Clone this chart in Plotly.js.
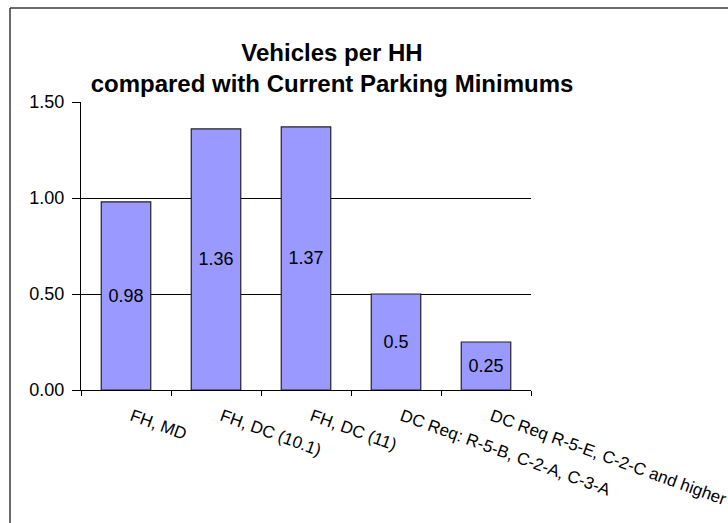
<!DOCTYPE html>
<html>
<head>
<meta charset="utf-8">
<script src="https://cdn.plot.ly/plotly-3.0.1.min.js"></script>
<style>
  html, body { margin: 0; padding: 0; background: #ffffff; }
  #chart { width: 728px; height: 523px; }
</style>
</head>
<body>
<div id="chart"></div>
<script>
const categories = ["FH, MD", "FH, DC (10.1)", "FH, DC (11)", "DC Req: R-5-B, C-2-A, C-3-A", "DC Req R-5-E, C-2-C and higher"];
const vehiclesPerHH = [0.98, 1.36, 1.37, 0.5, 0.25];
const yTickVals = [0, 0.5, 1, 1.5];
const yTickText = ["0.00", "0.50", "1.00", "1.50"];
const gridVals = [0.5, 1];

const FONT = "Liberation Sans, Arial, sans-serif";

const L = 81, R = 197, T = 102, B = 133;
const W = 728 - L - R, H = 523 - T - B;
const borderX = (10 - L) / W;
const borderY = 1 + (T - 8) / H;

const trace = {
  type: "bar",
  x: categories,
  y: vehiclesPerHH,
  text: vehiclesPerHH.map(String),
  textposition: "inside",
  insidetextanchor: "middle",
  textangle: 0,
  textfont: { family: FONT, size: 18, color: "#000000" },
  marker: { color: "#9999FF", line: { color: "#222222", width: 1.2 } },
  hoverinfo: "skip",
  cliponaxis: false
};

const ghost = {
  type: "scatter", mode: "markers",
  x: [categories[0]], y: [0], yaxis: "y2",
  marker: { opacity: 0 }, hoverinfo: "skip", showlegend: false
};

const layout = {
  width: 728, height: 523,
  margin: { l: L, r: R, t: T, b: B, pad: 0 },
  paper_bgcolor: "#ffffff",
  plot_bgcolor: "#ffffff",
  showlegend: false,
  bargap: 0.45,
  title: {
    text: "<b>Vehicles per HH<br>compared with Current Parking Minimums</b>",
    font: { family: FONT, size: 24, color: "#000000" },
    xref: "paper", x: (332 - L) / W, xanchor: "center",
    yref: "container", y: 1 - 61 / 523, yanchor: "top"
  },
  xaxis: {
    type: "category",
    range: [-0.5, 4.5],
    tickson: "boundaries",
    ticks: "outside", ticklen: 5, tickwidth: 1, tickcolor: "#000000",
    showline: true, linecolor: "#000000", linewidth: 1,
    showgrid: false, zeroline: false,
    tickangle: 20,
    ticklabelstandoff: 9,
    ticklabelshift: 6,
    tickfont: { family: FONT, size: 17, color: "#000000" },
    automargin: false
  },
  yaxis: {
    range: [0, 1.5],
    tickvals: gridVals,
    ticktext: gridVals.map(() => ""),
    showticklabels: false,
    ticks: "",
    showgrid: true, gridcolor: "#000000", gridwidth: 1,
    zeroline: false, showline: false,
    automargin: false
  },
  yaxis2: {
    overlaying: "y",
    side: "left",
    range: [0, 1.5],
    tickvals: yTickVals,
    ticktext: yTickText,
    ticks: "outside", ticklen: 8, tickwidth: 1, tickcolor: "#000000",
    showline: true, linecolor: "#000000", linewidth: 1,
    showgrid: false, zeroline: false,
    tickfont: { family: FONT, size: 18, color: "#000000" },
    ticklabelstandoff: 4,
    automargin: false
  },
  shapes: [
    { type: "line", xref: "paper", yref: "paper", x0: borderX, x1: borderX, y0: -1, y1: borderY,
      line: { color: "#3a3a3a", width: 1.5 } },
    { type: "line", xref: "paper", yref: "paper", x0: borderX, x1: 2, y0: borderY, y1: borderY,
      line: { color: "#3a3a3a", width: 1.5 } }
  ]
};

Plotly.newPlot("chart", [trace, ghost], layout, { staticPlot: true, displayModeBar: false });
</script>
</body>
</html>
